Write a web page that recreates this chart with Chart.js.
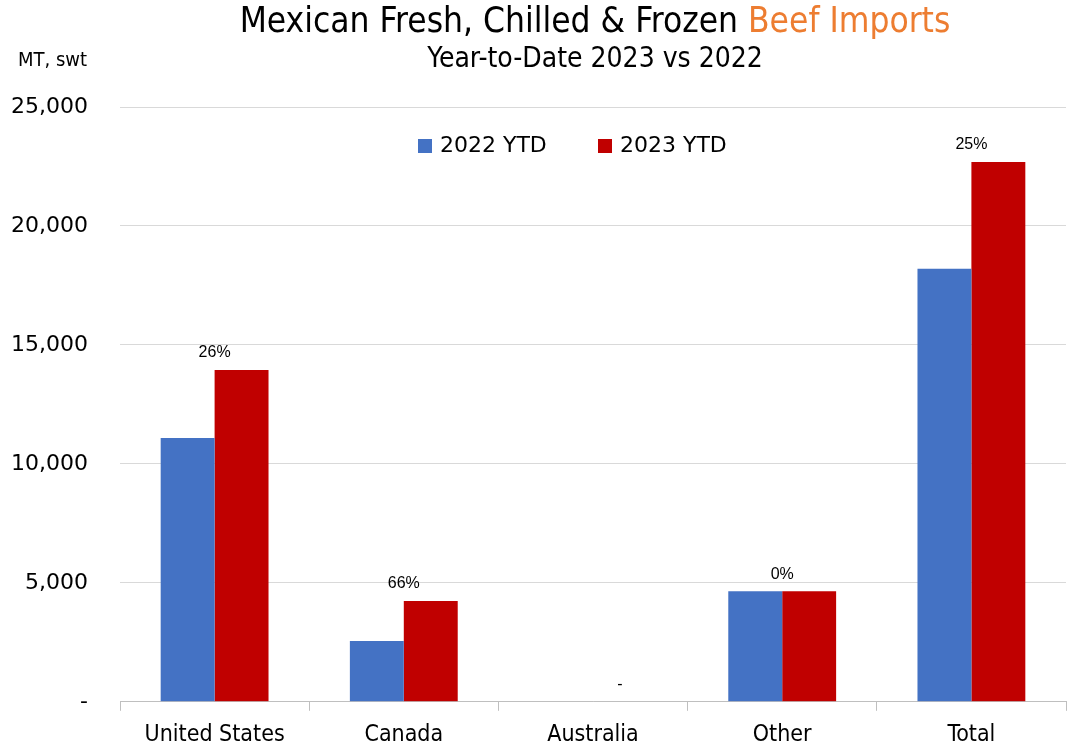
<!DOCTYPE html>
<html>
<head>
<meta charset="utf-8">
<script src="https://cdn.jsdelivr.net/npm/chart.js@4/dist/chart.umd.min.js"></script>
<style>
  html, body { margin: 0; padding: 0; background: #fff; }
  canvas { display: block; }
</style>
</head>
<body>
<canvas id="beefChart" width="1068" height="747"></canvas>
<script>
// Data
const categories = ['United States', 'Canada', 'Australia', 'Other', 'Total'];
const ytd2022 = [11090, 2560, 0, 4650, 18200];
const ytd2023 = [13950, 4240, 0, 4650, 22690];
const changeLabels = ['26%', '66%', '-', '0%', '25%'];
const yTicks = [0, 5000, 10000, 15000, 20000, 25000];

const narrow = '"Liberation Sans Narrow", "DejaVu Sans Condensed", "Roboto Condensed", sans-serif';
const wide = '"DejaVu Sans", "Noto Sans", sans-serif';

// Title, subtitle, unit label, legend and the % change labels
const overlay = {
    id: 'overlay',
    afterDraw(chart) {
        const ctx = chart.ctx;
        ctx.save();
        ctx.textBaseline = 'middle';

        // title in two colours
        ctx.font = '35px ' + narrow;
        const t1 = 'Mexican Fresh, Chilled & Frozen ';
        const t2 = 'Beef Imports';
        const w1 = ctx.measureText(t1).width;
        const w2 = ctx.measureText(t2).width;
        let x = 595 - (w1 + w2) / 2;
        ctx.textAlign = 'left';
        ctx.fillStyle = '#000';
        ctx.fillText(t1, x, 23);
        ctx.fillStyle = '#ED7D31';
        ctx.fillText(t2, x + w1, 23);

        ctx.fillStyle = '#000';
        ctx.textAlign = 'center';
        ctx.font = '28px ' + narrow;
        ctx.fillText('Year-to-Date 2023 vs 2022', 595, 60);

        ctx.textAlign = 'left';
        ctx.font = '20px ' + narrow;
        ctx.fillText('MT, swt', 18, 61);

        // legend
        const items = [
            { label: '2022 YTD', color: '#4472C4', x: 418 },
            { label: '2023 YTD', color: '#C00000', x: 598 }
        ];
        ctx.font = '22px ' + wide;
        items.forEach(it => {
            ctx.fillStyle = it.color;
            ctx.fillRect(it.x, 139, 14, 14);
            ctx.fillStyle = '#000';
            ctx.fillText(it.label, it.x + 22, 146);
        });

        // % change labels above each group
        const yScale = chart.scales.y;
        const xScale = chart.scales.x;
        const redMeta = chart.getDatasetMeta(1);
        ctx.textAlign = 'center';
        ctx.font = '16px "Liberation Sans", "Open Sans", sans-serif';
        changeLabels.forEach((lab, i) => {
            const top = Math.max(ytd2022[i], ytd2023[i]);
            const cx = top === 0 ? redMeta.data[i].x : xScale.getPixelForValue(i);
            ctx.fillText(lab, cx, yScale.getPixelForValue(top) - 17);
        });
        ctx.restore();
    }
};

const ctx = document.getElementById('beefChart').getContext('2d');
new Chart(ctx, {
    type: 'bar',
    data: {
        labels: categories,
        datasets: [{
            label: '2022 YTD',
            data: ytd2022,
            backgroundColor: '#4472C4'
        }, {
            label: '2023 YTD',
            data: ytd2023,
            backgroundColor: '#C00000'
        }]
    },
    options: {
        responsive: false,
        animation: false,
        devicePixelRatio: 1,
        layout: { padding: { top: 107, right: 2, left: 0, bottom: 0 } },
        datasets: {
            bar: { categoryPercentage: 0.57, barPercentage: 1.0, borderWidth: 0 }
        },
        plugins: {
            legend: { display: false },
            tooltip: { enabled: false }
        },
        scales: {
            x: {
                grid: {
                    offset: true,
                    drawOnChartArea: false,
                    drawTicks: true,
                    tickLength: 9,
                    color: '#bfbfbf'
                },
                border: { display: true, color: '#bfbfbf' },
                ticks: {
                    color: '#000',
                    font: { family: narrow, size: 23 },
                    padding: 10
                },
                afterFit(scale) { scale.height = 45; }
            },
            y: {
                min: 0,
                max: 25000,
                afterBuildTicks(scale) { scale.ticks = yTicks.map(v => ({ value: v })); },
                grid: { color: '#d9d9d9', drawTicks: false },
                border: { display: false },
                ticks: {
                    color: '#000',
                    padding: 32,
                    font: { family: wide, size: 22 },
                    callback: v => v === 0 ? '-' : v.toLocaleString('en-US')
                },
                afterFit(scale) { scale.width = 120; }
            }
        }
    },
    plugins: [overlay]
});
</script>
</body>
</html>
